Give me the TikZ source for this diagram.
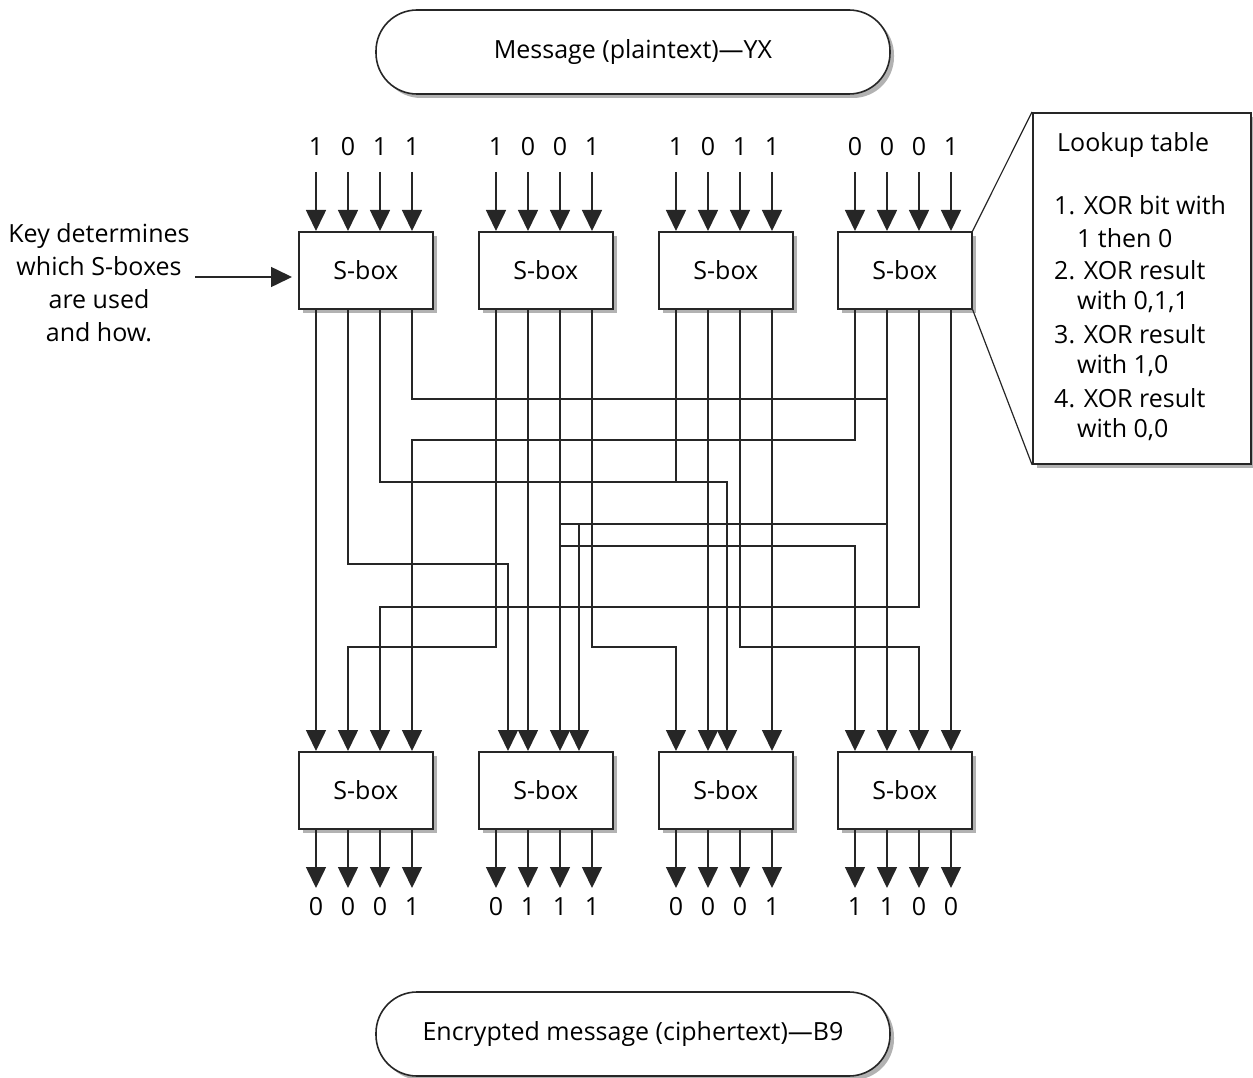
\documentclass[tikz,border=0pt]{standalone}
\usepackage{fontspec}
\setmainfont{Open Sans}
\usetikzlibrary{arrows.meta,shadows,calc}
\begin{document}
\begin{tikzpicture}[x=1pt,y=-1pt,
  wire/.style={line width=1.6pt, draw=black!85},
  arr/.style={wire, -{Triangle[width=20pt,length=21pt]}},
  shad/.style={drop shadow={shadow xshift=4pt, shadow yshift=-4pt, fill=black!30, opacity=1}},
  sbox/.style={draw=black!85, line width=1.6pt, fill=white, minimum width=134pt, minimum height=77pt, inner sep=0pt, shad, font=\fontsize{25}{29}\selectfont},
  pill/.style={draw=black!85, line width=1.6pt, fill=white, rounded corners=41pt, minimum width=514pt, minimum height=84pt, shad, font=\fontsize{25}{29}\selectfont},
  bit/.style={inner sep=0pt, font=\fontsize{25}{29}\selectfont},
  txt/.style={inner sep=0pt, anchor=west, font=\fontsize{25}{29}\selectfont}
]
\useasboundingbox (0,0) rectangle (1253,1078);

% message pills
\node[pill] (msg) at (633,52) {Message (plaintext)—YX};
\node[pill] (enc) at (633,1034) {Encrypted message (ciphertext)—B9};

% S-boxes
\foreach \i/\x in {1/298,2/478,3/658,4/837} {
  \node[sbox, anchor=north west] (t\i) at (\x,231) {S-box};
  \node[sbox, anchor=north west] (b\i) at (\x,751) {S-box};
}

% pins
\foreach \i in {1,...,4} {
  \foreach \k/\o in {1/18,2/50,3/82,4/114} {
    \coordinate (t\i i\k) at ($(t\i.north west)+(\o,0)$);
    \coordinate (t\i o\k) at ($(t\i.south west)+(\o,0)$);
    \coordinate (b\i o\k) at ($(b\i.south west)+(\o,0)$);
  }
}
\foreach \i/\ol in {1/{18,50,82,114},2/{30,50,82,101},3/{18,50,69,114},4/{18,50,82,114}} {
  \foreach \o [count=\k] in \ol {
    \coordinate (b\i i\k) at ($(b\i.north west)+(\o,0)$);
  }
}

% input bits and arrows
\foreach \i/\bits in {1/{1,0,1,1},2/{1,0,0,1},3/{1,0,1,1},4/{0,0,0,1}} {
  \foreach \v [count=\k] in \bits {
    \node[bit] (in\i\k) at (t\i i\k |- 0,147) {\v};
    \draw[arr] (t\i i\k |- 0,172) -- (t\i i\k);
  }
}
% output bits and arrows
\foreach \i/\bits in {1/{0,0,0,1},2/{0,1,1,1},3/{0,0,0,1},4/{1,1,0,0}} {
  \foreach \v [count=\k] in \bits {
    \draw[arr] (b\i o\k) -- (b\i o\k |- 0,888);
    \node[bit] (out\i\k) at (b\i o\k |- 0,907) {\v};
  }
}

% permutation wiring
\draw[arr] (t1o1) -- (b1i1);
\draw[arr] (t1o2) -- (t1o2 |- 0,564) -- (b2i1 |- 0,564) -- (b2i1);
\draw[arr] (t1o3) -- (t1o3 |- 0,482) -- (b3i3 |- 0,482) -- (b3i3);
\draw[wire] (t1o4) -- (t1o4 |- 0,399) -- (t4o2 |- 0,399);
\draw[arr] (t2o1) -- (t2o1 |- 0,647) -- (b1i2 |- 0,647) -- (b1i2);
\draw[arr] (t2o2) -- (b2i2);
\draw[arr] (t2o3) -- (b2i3);
\draw[arr] (t2o4) -- (t2o4 |- 0,647) -- (b3i1 |- 0,647) -- (b3i1);
\draw[wire] (t3o1) -- (t3o1 |- 0,482);
\draw[arr] (t3o2) -- (b3i2);
\draw[arr] (t3o3) -- (t3o3 |- 0,647) -- (b4i3 |- 0,647) -- (b4i3);
\draw[arr] (t3o4) -- (b3i4);
\draw[arr] (t4o1) -- (t4o1 |- 0,440) -- (b1i4 |- 0,440) -- (b1i4);
\draw[arr] (t4o2) -- (b4i2);
\draw[arr] (t4o3) -- (t4o3 |- 0,607) -- (b1i3 |- 0,607) -- (b1i3);
\draw[arr] (t4o4) -- (b4i4);
\coordinate (j1) at (t2o3 |- 0,524);
\coordinate (j2) at (t2o3 |- 0,546);
\draw[wire] (j1) -- (t4o2 |- j1);
\draw[arr] (b2i4 |- j1) -- (b2i4);
\draw[arr] (j2) -- (b4i1 |- j2) -- (b4i1);

% key note
\node[inner sep=0pt, align=center, font=\fontsize{25}{33}\selectfont] (key) at (99,283)
  {Key determines\\which S-boxes\\are used\\and how.};
\coordinate (ka) at (195,277);
\draw[arr] (ka) -- (t1.west |- ka) [shorten >=6pt];

% lookup table
\node[draw=black!85, line width=1.6pt, fill=white, shad, anchor=north west,
  minimum width=218pt, minimum height=351pt] (lut) at (1032,112) {};
\draw[wire, line width=1.2pt] (t4.north east) -- (lut.north west);
\draw[wire, line width=1.2pt] (t4.south east) -- (lut.south west);
\node[txt] (l0) at (1057,145) {Lookup table};
\node[txt] (l1) at (1054,205) {1. XOR bit with};
\node[txt] (l2) at (1077,238) {1 then 0};
\node[txt] (l3) at (1054,270) {2. XOR result};
\node[txt] (l4) at (1077,302) {with 0,1,1};
\node[txt] (l5) at (1054,334) {3. XOR result};
\node[txt] (l6) at (1077,366) {with 1,0};
\node[txt] (l7) at (1054,398) {4. XOR result};
\node[txt] (l8) at (1077,430) {with 0,0};
\end{tikzpicture}
\end{document}
